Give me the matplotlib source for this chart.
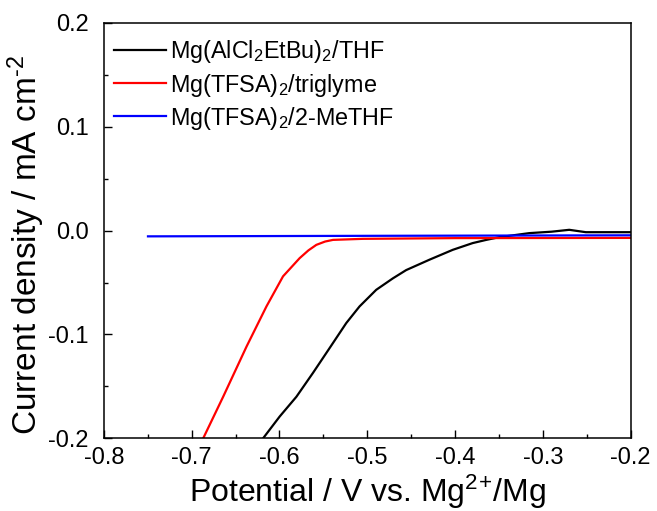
"""
Linear sweep voltammograms for three Mg electrolytes (cathodic region).
"""

import matplotlib.pyplot as plt
from matplotlib.ticker import MultipleLocator, FormatStrFormatter

plt.rcParams["font.family"] = ["Liberation Sans", "DejaVu Sans"]
plt.rcParams["mathtext.fontset"] = "custom"
plt.rcParams["mathtext.rm"] = "Liberation Sans"
plt.rcParams["mathtext.it"] = "Liberation Sans"
plt.rcParams["axes.unicode_minus"] = False

# Mg(AlCl2EtBu)2/THF
black_x = [-0.6186, -0.5997, -0.5807, -0.5618, -0.5428, -0.5239, -0.5088,
           -0.4898, -0.4709, -0.4557, -0.4292, -0.4027, -0.380, -0.3650,
           -0.3497, -0.3156, -0.290, -0.270, -0.2511, -0.2]
black_y = [-0.200, -0.179, -0.160, -0.137, -0.113, -0.089, -0.073,
           -0.057, -0.046, -0.038, -0.028, -0.0185, -0.012, -0.0090,
           -0.0063, -0.0024, -0.0010, 0.0008, -0.0015, -0.0015]

# Mg(TFSA)2/triglyme
red_x = [-0.6868, -0.6641, -0.6375, -0.6148, -0.5959, -0.577, -0.567,
         -0.558, -0.548, -0.539, -0.505, -0.40, -0.2]
red_y = [-0.200, -0.160, -0.1117, -0.073, -0.044, -0.0265, -0.019,
         -0.0137, -0.0105, -0.0089, -0.0079, -0.0072, -0.0070]

# Mg(TFSA)2/2-MeTHF
blue_x = [-0.7497, -0.50, -0.2]
blue_y = [-0.0055, -0.0050, -0.0045]

labels = ["Mg(AlCl$_2$EtBu)$_2$/THF", "Mg(TFSA)$_2$/triglyme",
          "Mg(TFSA)$_2$/2-MeTHF"]


def main() -> None:
    fig = plt.figure(figsize=(6.57, 5.11), dpi=100)
    ax = fig.add_axes([0.158, 0.1423, 0.802, 0.8127])

    ax.plot(black_x, black_y, color="black", lw=1.6, label=labels[0])
    ax.plot(red_x, red_y, color="#ff0000", lw=1.6, label=labels[1])
    ax.plot(blue_x, blue_y, color="#0000ff", lw=1.6, label=labels[2])

    ax.set_xlim(-0.8, -0.2)
    ax.set_ylim(-0.2, 0.2)
    ax.xaxis.set_major_locator(MultipleLocator(0.1))
    ax.xaxis.set_minor_locator(MultipleLocator(0.05))
    ax.yaxis.set_major_locator(MultipleLocator(0.1))
    ax.yaxis.set_minor_locator(MultipleLocator(0.05))
    ax.xaxis.set_major_formatter(FormatStrFormatter("%.1f"))
    ax.yaxis.set_major_formatter(FormatStrFormatter("%.1f"))

    ax.tick_params(which="both", direction="in", top=False, right=False,
                   width=1.0, labelsize=17)
    ax.tick_params(which="major", length=6)
    ax.tick_params(which="minor", length=3)
    ax.tick_params(axis="x", pad=6)
    ax.tick_params(axis="y", pad=11)
    for spine in ax.spines.values():
        spine.set_linewidth(1.1)

    ax.set_xlabel("Potential / V vs. Mg$^{2\\!+\\!}$/Mg", fontsize=23,
                  labelpad=3)
    ax.set_ylabel("Current density / mA cm$^{\\text{-}2}$", fontsize=24)
    ax.yaxis.set_label_coords(-0.108, 0.464)

    ax.legend(loc="upper left", bbox_to_anchor=(0.0, 0.988), frameon=False,
              fontsize=16.8, handlelength=2.2, handletextpad=0.2,
              labelspacing=0.26, borderaxespad=0.15, borderpad=0.3)

    fig.savefig("out.png", dpi=100)
    plt.close(fig)


if __name__ == "__main__":
    main()
